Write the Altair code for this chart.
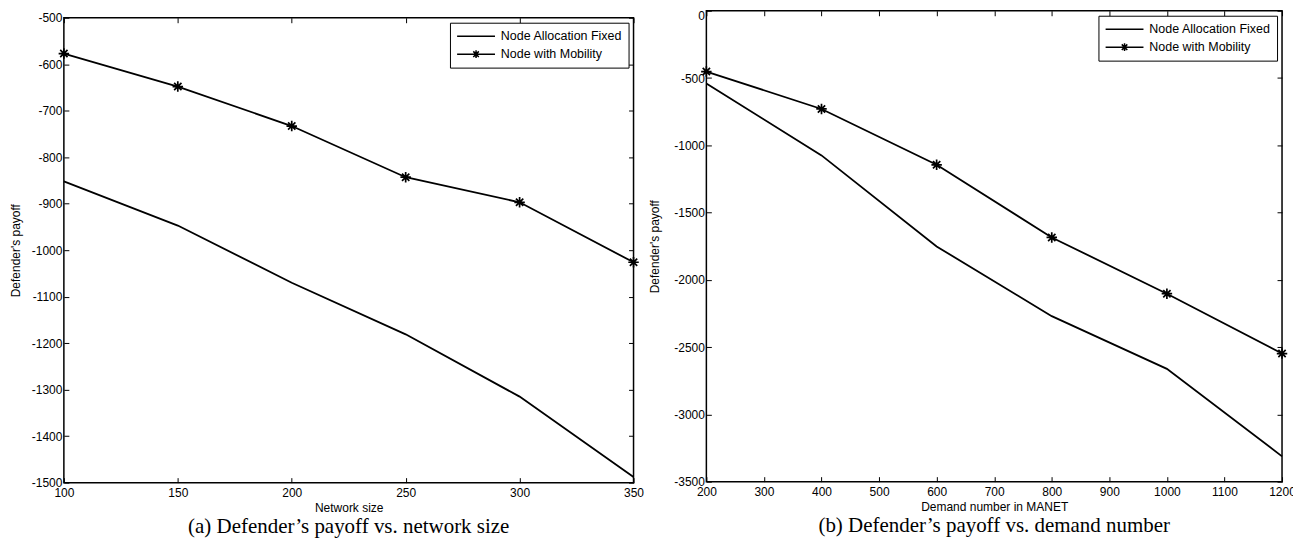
import altair as alt
import pandas as pd

series_names = ["Node Allocation Fixed", "Node with Mobility"]

# Panel (a): network size
net_size = [100, 150, 200, 250, 300, 350]
fixed_a = [-852, -947, -1070, -1181, -1315, -1488]
mobility_a = [-577, -648, -733, -843, -897, -1026]

# Panel (b): demand number
demand = [200, 400, 600, 800, 1000, 1200]
fixed_b = [-541, -1075, -1752, -2270, -2662, -3312]
mobility_b = [-452, -730, -1145, -1685, -2103, -2548]

x_ticks_a = [100, 150, 200, 250, 300, 350]
y_ticks_a = [-1500, -1400, -1300, -1200, -1100, -1000, -900, -800, -700, -600, -500]
x_ticks_b = [200, 300, 400, 500, 600, 700, 800, 900, 1000, 1100, 1200]
y_ticks_b = [-3500, -3000, -2500, -2000, -1500, -1000, -500, 0]

STAR = "M0,-1V1M-1,0H1M-0.7,-0.7L0.7,0.7M-0.7,0.7L0.7,-0.7"
# legend glyphs: a 38px line (with an asterisk in the middle for the mobility series)
LEG_FIXED = "M-1,0H5"
LEG_MOB = ("M-1,0H5M2,-0.62V0.62M1.38,0H2.62"
           "M1.56,-0.44L2.44,0.44M1.56,0.44L2.44,-0.44")
SANS = "Liberation Sans"
SERIF = "Liberation Serif"
LABEL_EXPR = "'' + datum.value"


def panel(xs, fixed, mob, xticks, yticks, xtitle, caption, w, h, flush_top,
          ytitle_pad, extra_bottom):
    df = pd.DataFrame({
        "x": xs + xs,
        "y": fixed + mob,
        "series": [series_names[0]] * len(xs) + [series_names[1]] * len(xs),
    })
    xsc = alt.Scale(domain=[xticks[0], xticks[-1]], nice=False, zero=False)
    ysc = alt.Scale(domain=[yticks[0], yticks[-1]], nice=False, zero=False)

    y_left_kw = dict(
        values=yticks, orient="left", offset=-5, tickSize=5, domain=False,
        grid=False, labelPadding=2, labelExpr=LABEL_EXPR,
        title="Defender's payoff", titlePadding=ytitle_pad,
    )
    if flush_top:
        y_left_kw["labelBaseline"] = {
            "condition": {"test": f"datum.value == {yticks[-1]}", "value": "top"},
            "value": "middle",
        }
    x_bottom = alt.Axis(
        values=xticks, orient="bottom", offset=-5, tickSize=5, domain=False,
        grid=False, labelPadding=5, labelFlush=False, labelExpr=LABEL_EXPR,
        title=xtitle, titlePadding=4,
    )
    x_top = alt.Axis(values=xticks, orient="top", offset=-5, tickSize=5,
                     domain=False, grid=False, labels=False, title=None)
    y_right = alt.Axis(values=yticks, orient="right", offset=-5, tickSize=5,
                       domain=False, grid=False, labels=False, title=None)

    base = alt.Chart(df)
    lines = base.mark_line(color="black", strokeWidth=1.8).encode(
        x=alt.X("x:Q", scale=xsc, axis=x_bottom),
        y=alt.Y("y:Q", scale=ysc, axis=alt.Axis(**y_left_kw)),
        detail="series:N",
    )
    stars = base.transform_filter(
        alt.datum.series == series_names[1]
    ).mark_point(shape=STAR, size=110, color="black", strokeWidth=1.7,
                 filled=False, opacity=1).encode(
        x=alt.X("x:Q", scale=xsc, axis=None),
        y=alt.Y("y:Q", scale=ysc, axis=None),
    )
    legend_layer = base.transform_filter("false").mark_point(
        filled=False, color="black", strokeWidth=1.5, size=40, opacity=1
    ).encode(
        x=alt.X("x:Q", scale=xsc, axis=None),
        y=alt.Y("y:Q", scale=ysc, axis=None),
        shape=alt.Shape(
            "series:N",
            scale=alt.Scale(domain=series_names, range=[LEG_FIXED, LEG_MOB]),
            legend=alt.Legend(
                title=None, orient="top-right", offset=5,
                strokeColor="black", fillColor="white", padding=6,
                labelFont=SANS, labelFontSize=12.5, labelColor="black",
                symbolSize=160, symbolStrokeColor="black",
                symbolStrokeWidth=1.5, symbolFillColor="transparent",
                rowPadding=4, labelOffset=30, cornerRadius=0,
            ),
        ),
    )
    frame = base.transform_filter("false").mark_point().encode(
        x=alt.X("x:Q", scale=xsc, axis=x_top),
        y=alt.Y("y:Q", scale=ysc, axis=y_right),
    )
    title_kw = dict(
        text=caption, orient="bottom", font=SERIF, fontSize=21,
        fontWeight="normal", color="black", anchor="middle", offset=2,
    )
    if extra_bottom:
        title_kw.update(subtitle=" ", subtitleFontSize=extra_bottom,
                        subtitlePadding=0, subtitleColor="white")
    return alt.layer(lines, stars, legend_layer, frame).resolve_axis(
        x="independent", y="independent"
    ).properties(width=w, height=h, title=alt.TitleParams(**title_kw))


left = panel(net_size, fixed_a, mobility_a, x_ticks_a, y_ticks_a,
             "Network size", "(a) Defender\u2019s payoff vs. network size",
             571, 466, False, 9, 0)
right = panel(demand, fixed_b, mobility_b, x_ticks_b, y_ticks_b,
              "Demand number in MANET",
              "(b) Defender\u2019s payoff vs. demand number",
              577, 472, True, 12, 8)

chart = alt.hconcat(left, right, spacing=3, center=True).resolve_scale(
    shape="independent"
).resolve_legend(
    shape="independent"
).properties(
    padding={"left": 0, "top": 0, "right": -4, "bottom": 0},
    background="white",
).configure_view(
    stroke="black", strokeWidth=1.5
).configure_axis(
    labelFont=SANS, labelFontSize=12, labelColor="black",
    titleFont=SANS, titleFontSize=12, titleFontWeight="normal",
    titleColor="black", tickColor="black", tickWidth=1,
)

chart.save("out.html", embed_options={"renderer": "svg", "actions": False})
